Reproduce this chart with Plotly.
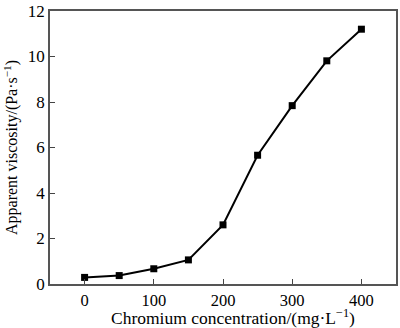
import plotly.graph_objects as go

conc = [0, 50, 100, 150, 200, 250, 300, 350, 400]
viscosity = [0.29, 0.37, 0.67, 1.06, 2.6, 5.66, 7.84, 9.81, 11.2]
x_ticks = [0, 100, 200, 300, 400]
y_ticks = [0, 2, 4, 6, 8, 10, 12]

fig = go.Figure()
fig.add_trace(go.Scatter(
    x=conc, y=viscosity, mode="lines+markers",
    line=dict(color="black", width=2),
    marker=dict(symbol="square", size=7, color="black"),
    showlegend=False,
))

serif = "Liberation Serif, Times New Roman, serif"
fig.update_layout(
    width=400, height=328,
    margin=dict(l=50, r=2, t=4, b=44),
    paper_bgcolor="white", plot_bgcolor="white",
    font=dict(family=serif, size=17, color="black"),
)
fig.update_xaxes(
    range=[-50, 450], tickvals=x_ticks, ticks="inside", ticklen=5,
    tickcolor="#444", showline=True, linecolor="#555", linewidth=1.5,
    mirror=True, showgrid=False, zeroline=False, ticklabeloverflow="allow",
    tickfont=dict(family=serif, size=16.5),
)
fig.update_yaxes(
    range=[0, 12], tickvals=y_ticks, ticks="inside", ticklen=5,
    tickcolor="#444", showline=True, linecolor="#555", linewidth=1.5,
    mirror=True, showgrid=False, zeroline=False, ticklabeloverflow="allow",
    tickfont=dict(family=serif, size=17),
    title=dict(text="Apparent viscosity/(Pa·s<sup>−1</sup>)", standoff=6,
               font=dict(family=serif, size=16)),
)
fig.add_annotation(
    text="Chromium concentration/(mg·L<sup>−1</sup>)",
    xref="paper", yref="paper", x=0.53, y=-0.12,
    xanchor="center", yanchor="middle", showarrow=False,
    font=dict(family=serif, size=17.5),
)
fig.write_html("out.html")
